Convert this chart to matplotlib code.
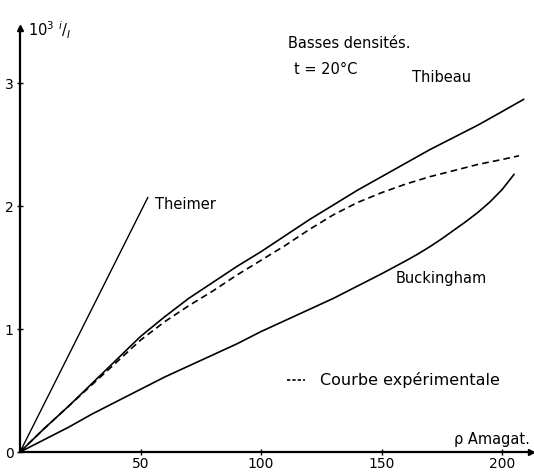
import matplotlib
matplotlib.use("Agg")
import matplotlib.pyplot as plt

rho_thibeau = [0, 10, 20, 30, 40, 50, 60, 70, 80, 90, 100, 110, 120, 130, 140,
               150, 160, 170, 180, 190, 200, 209]
val_thibeau = [0, 0.19, 0.37, 0.56, 0.75, 0.94, 1.10, 1.25, 1.38, 1.51, 1.63, 1.76,
               1.89, 2.01, 2.13, 2.24, 2.35, 2.46, 2.56, 2.66, 2.77, 2.87]

rho_exp = [0, 10, 20, 30, 40, 50, 60, 70, 80, 90, 100, 110, 120, 130, 140,
           150, 160, 170, 180, 190, 200, 207]
val_exp = [0, 0.19, 0.37, 0.55, 0.73, 0.91, 1.06, 1.19, 1.31, 1.44, 1.56, 1.68,
           1.81, 1.93, 2.03, 2.11, 2.18, 2.24, 2.29, 2.34, 2.38, 2.41]

rho_buck = [0, 10, 20, 30, 40, 50, 60, 70, 80, 90, 100, 110, 120, 130, 140,
            150, 160, 165, 170, 175, 180, 185, 190, 195, 200, 205]
val_buck = [0, 0.10, 0.20, 0.31, 0.41, 0.51, 0.61, 0.70, 0.79, 0.88, 0.98, 1.07,
            1.16, 1.25, 1.35, 1.45, 1.555, 1.61, 1.67, 1.735, 1.805, 1.875, 1.95,
            2.035, 2.135, 2.26]

rho_theimer = [0, 53]
val_theimer = [0, 2.07]

X_TICKS = [50, 100, 150, 200]
Y_TICKS = [0, 1, 2, 3]
X_MAX = 212
Y_MAX = 3.45

fig = plt.figure(figsize=(5.34, 4.74), dpi=100)
ax = fig.add_axes([20 / 534, 22 / 474, 511 / 534, 424 / 474])

line_kw = dict(color="black", lw=1.2, solid_capstyle="round")
ax.plot(rho_thibeau, val_thibeau, **line_kw)
ax.plot(rho_buck, val_buck, **line_kw)
ax.plot(rho_theimer, val_theimer, lw=1.0, color="black")
ax.plot(rho_exp, val_exp, color="black", lw=1.2, linestyle=(0, (4, 2.5)))

ax.set_xlim(0, X_MAX)
ax.set_ylim(0, Y_MAX)
for side in ["top", "right"]:
    ax.spines[side].set_visible(False)
for side in ["left", "bottom"]:
    ax.spines[side].set_linewidth(1.6)

# arrow heads on the axes
ax.plot(1, 0, ">", color="black", ms=5, transform=ax.transAxes, clip_on=False)
ax.plot(0, 1, "^", color="black", ms=5, transform=ax.transAxes, clip_on=False)

ax.set_xticks(X_TICKS)
ax.set_yticks(Y_TICKS)
ax.tick_params(direction="inout", length=5, width=1.0, labelsize=10, pad=2)
ax.tick_params(axis="x", pad=1)

txt = dict(color="black", fontsize=10.5)
ax.text(3.5, 3.43, r"10$^3$ $^{i}/_{I}$", ha="left", va="center", **txt)
ax.text(211.5, 0.10, "ρ Amagat.", ha="right", va="center", **txt)
ax.text(136.5, 3.32, "Basses densités.", ha="center", va="center", **txt)
ax.text(127, 3.11, "t = 20°C", ha="center", va="center", **txt)
ax.text(56, 2.01, "Theimer", ha="left", va="center", **txt)
ax.text(162.5, 3.05, "Thibeau", ha="left", va="center", **txt)
ax.text(156, 1.41, "Buckingham", ha="left", va="center", **txt)

ax.plot([110.8, 118.3], [0.585, 0.585], color="black", lw=1.2, linestyle=(0, (2, 1.2)))
ax.text(124.5, 0.585, "Courbe expérimentale", ha="left", va="center",
        color="black", fontsize=11.5)

fig.savefig("out.png", dpi=100)
